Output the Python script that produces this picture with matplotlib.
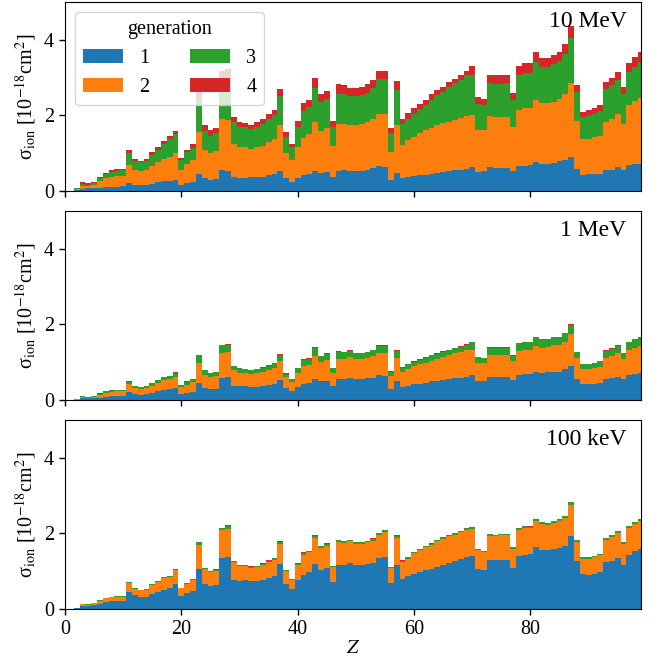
import numpy as np
import matplotlib
matplotlib.use("Agg")
import matplotlib.pyplot as plt

plt.rcParams['font.family'] = 'serif'
plt.rcParams['font.serif'] = ['Liberation Serif', 'DejaVu Serif']
plt.rcParams['mathtext.fontset'] = 'stix'

Z = np.arange(1, 100)
generations = ['1', '2', '3', '4']
energies = ['10 MeV', '1 MeV', '100 keV']

# ---- 10 MeV : cumulative tops (generation 1, 1+2, 1+2+3, 1+2+3+4)
mev10_upto1 = [0.01,0.02,0.06,0.07,0.08,0.09,0.11,0.11,0.11,0.12,
               0.21,0.17,0.15,0.16,0.19,0.23,0.26,0.27,0.28,0.17,
               0.21,0.24,0.44,0.33,0.30,0.31,0.55,0.53,0.37,0.35,
               0.35,0.36,0.36,0.37,0.41,0.46,0.53,0.33,0.24,0.34,
               0.41,0.46,0.53,0.48,0.49,0.37,0.54,0.55,0.53,0.53,
               0.54,0.55,0.61,0.65,0.63,0.30,0.48,0.35,0.37,0.39,
               0.41,0.42,0.44,0.48,0.49,0.53,0.55,0.56,0.59,0.62,
               0.50,0.52,0.62,0.61,0.61,0.61,0.53,0.66,0.67,0.68,
               0.77,0.72,0.72,0.74,0.78,0.81,0.90,0.57,0.43,0.44,
               0.46,0.46,0.55,0.56,0.62,0.56,0.68,0.70,0.72]
mev10_upto2 = [0.01,0.06,0.14,0.12,0.15,0.25,0.33,0.37,0.39,0.39,
               0.68,0.55,0.53,0.55,0.65,0.76,0.85,0.91,1.00,0.55,
               0.72,0.81,1.56,1.07,1.00,1.06,1.91,1.88,1.25,1.15,
               1.15,1.11,1.15,1.20,1.30,1.38,1.74,1.00,0.81,1.15,
               1.41,1.50,1.82,1.58,1.67,1.18,1.78,1.78,1.74,1.74,
               1.76,1.82,1.91,2.04,2.04,1.03,1.74,1.21,1.34,1.43,
               1.52,1.60,1.65,1.74,1.80,1.82,1.88,1.94,1.98,2.00,
               1.62,1.60,1.97,1.95,1.95,1.95,1.69,2.13,2.18,2.19,
               2.40,2.32,2.32,2.35,2.44,2.55,2.85,1.84,1.38,1.38,
               1.43,1.44,1.82,1.90,2.02,1.78,2.26,2.38,2.45]
mev10_upto3 = [0.01,0.07,0.19,0.17,0.20,0.33,0.44,0.50,0.54,0.55,
               1.00,0.78,0.76,0.78,0.95,1.07,1.25,1.37,1.51,0.81,
               1.02,1.13,2.45,1.59,1.44,1.52,2.97,2.95,1.82,1.69,
               1.69,1.63,1.69,1.76,1.89,2.00,2.50,1.43,1.16,1.69,
               2.11,2.22,2.72,2.34,2.42,1.69,2.57,2.56,2.51,2.50,
               2.53,2.60,2.73,2.95,2.95,1.52,2.66,1.76,1.91,2.04,
               2.16,2.28,2.41,2.53,2.62,2.75,2.84,2.92,3.05,3.06,
               2.31,2.26,2.84,2.82,2.82,2.84,2.41,3.06,3.12,3.12,
               3.41,3.28,3.28,3.36,3.43,3.63,4.05,2.62,1.96,1.98,
               2.04,2.10,2.68,2.79,2.94,2.55,3.14,3.28,3.41]
mev10_upto4 = [0.01,0.07,0.23,0.20,0.24,0.37,0.48,0.55,0.58,0.59,
               1.07,0.84,0.80,0.84,1.02,1.15,1.32,1.44,1.58,0.88,
               1.08,1.23,2.65,1.74,1.60,1.67,3.18,3.22,1.96,1.81,
               1.80,1.75,1.81,1.89,2.02,2.13,2.70,1.56,1.25,1.85,
               2.33,2.41,2.98,2.55,2.64,1.84,2.82,2.79,2.73,2.72,
               2.75,2.82,2.94,3.17,3.17,1.67,2.90,1.91,2.06,2.19,
               2.31,2.41,2.57,2.66,2.75,2.88,2.97,3.06,3.17,3.30,
               2.48,2.44,3.06,3.06,3.06,3.06,2.60,3.30,3.38,3.38,
               3.67,3.52,3.52,3.60,3.67,3.87,4.35,2.81,2.09,2.13,
               2.19,2.28,2.88,2.99,3.14,2.75,3.38,3.55,3.67]

# ---- 1 MeV
mev1_upto1 = [0.01,0.01,0.04,0.04,0.04,0.06,0.09,0.11,0.11,0.11,
              0.22,0.16,0.14,0.15,0.19,0.23,0.26,0.28,0.32,0.15,
              0.19,0.22,0.44,0.32,0.29,0.30,0.59,0.60,0.38,0.37,
              0.37,0.35,0.35,0.37,0.40,0.42,0.53,0.31,0.25,0.35,
              0.42,0.44,0.55,0.50,0.51,0.37,0.55,0.55,0.57,0.55,
              0.55,0.57,0.58,0.65,0.63,0.30,0.50,0.33,0.38,0.41,
              0.42,0.46,0.49,0.49,0.53,0.55,0.58,0.59,0.62,0.65,
              0.51,0.51,0.61,0.61,0.61,0.61,0.53,0.65,0.68,0.68,
              0.75,0.71,0.73,0.75,0.75,0.82,0.90,0.56,0.41,0.41,
              0.42,0.44,0.55,0.58,0.62,0.55,0.65,0.69,0.70]
mev1_upto2 = [0.01,0.03,0.08,0.06,0.09,0.13,0.19,0.22,0.23,0.23,
              0.41,0.32,0.29,0.31,0.38,0.46,0.54,0.55,0.62,0.33,
              0.40,0.47,0.99,0.67,0.60,0.63,1.23,1.26,0.78,0.72,
              0.70,0.69,0.70,0.74,0.79,0.84,1.04,0.60,0.48,0.70,
              0.90,0.92,1.15,1.01,1.06,0.70,1.09,1.07,1.13,1.08,
              1.08,1.12,1.16,1.25,1.25,0.63,1.10,0.74,0.81,0.90,
              0.94,0.99,1.04,1.07,1.13,1.19,1.23,1.28,1.32,1.32,
              0.99,0.97,1.19,1.19,1.19,1.19,1.02,1.30,1.32,1.32,
              1.43,1.38,1.40,1.44,1.44,1.54,1.74,1.11,0.82,0.82,
              0.85,0.88,1.12,1.17,1.23,1.07,1.32,1.38,1.43]
mev1_upto3 = [0.01,0.03,0.11,0.08,0.11,0.17,0.23,0.26,0.27,0.27,
              0.48,0.37,0.34,0.36,0.44,0.52,0.61,0.63,0.72,0.39,
              0.48,0.55,1.18,0.78,0.70,0.74,1.44,1.46,0.90,0.84,
              0.82,0.79,0.82,0.85,0.91,0.97,1.20,0.69,0.56,0.84,
              1.06,1.09,1.37,1.16,1.22,0.84,1.28,1.26,1.30,1.23,
              1.23,1.26,1.32,1.43,1.43,0.75,1.30,0.85,0.94,1.01,
              1.06,1.12,1.18,1.22,1.28,1.32,1.37,1.41,1.46,1.52,
              1.13,1.10,1.38,1.38,1.38,1.38,1.17,1.50,1.52,1.52,
              1.66,1.60,1.60,1.66,1.66,1.76,1.97,1.26,0.95,0.95,
              0.98,1.02,1.30,1.35,1.43,1.23,1.52,1.60,1.66]
mev1_gen4 = [0.0,0.0,0.005,0.005,0.005,0.005,0.005,0.005,0.005,0.005,
             0.01,0.005,0.005,0.005,0.005,0.01,0.01,0.01,0.01,0.005,
             0.01,0.01,0.02,0.01,0.01,0.01,0.02,0.025,0.01,0.01,
             0.01,0.01,0.01,0.01,0.01,0.01,0.025,0.01,0.005,0.01,
             0.01,0.01,0.02,0.01,0.01,0.01,0.01,0.01,0.01,0.01,
             0.01,0.01,0.01,0.015,0.015,0.005,0.015,0.01,0.01,0.01,
             0.01,0.01,0.01,0.01,0.01,0.01,0.01,0.015,0.015,0.015,
             0.01,0.01,0.015,0.015,0.015,0.015,0.01,0.015,0.015,0.015,
             0.015,0.015,0.015,0.015,0.015,0.02,0.025,0.015,0.01,0.01,
             0.01,0.01,0.015,0.015,0.015,0.015,0.015,0.015,0.015]

# ---- 100 keV
kev100_upto1 = [0.01,0.02,0.09,0.08,0.10,0.13,0.18,0.20,0.21,0.22,
                0.46,0.36,0.33,0.33,0.40,0.46,0.51,0.55,0.66,0.35,
                0.42,0.48,1.07,0.67,0.62,0.64,1.34,1.38,0.77,0.74,
                0.77,0.73,0.75,0.77,0.82,0.88,1.18,0.67,0.53,0.76,
                0.91,0.97,1.18,1.03,1.09,0.72,1.16,1.16,1.22,1.16,
                1.17,1.18,1.22,1.34,1.38,0.70,1.17,0.80,0.87,0.92,
                0.97,1.02,1.07,1.11,1.17,1.22,1.28,1.32,1.37,1.41,
                1.06,1.02,1.29,1.29,1.30,1.30,1.08,1.41,1.44,1.46,
                1.63,1.56,1.56,1.58,1.60,1.67,1.94,1.26,0.92,0.89,
                0.93,0.98,1.23,1.28,1.36,1.17,1.44,1.52,1.59]
kev100_upto2 = [0.01,0.03,0.13,0.11,0.15,0.22,0.29,0.32,0.33,0.33,
                0.69,0.54,0.50,0.51,0.64,0.72,0.82,0.85,1.03,0.55,
                0.67,0.78,1.68,1.07,0.98,1.01,2.08,2.12,1.23,1.13,
                1.13,1.08,1.11,1.16,1.24,1.30,1.72,1.00,0.78,1.16,
                1.44,1.50,1.87,1.60,1.67,1.10,1.77,1.74,1.79,1.73,
                1.73,1.76,1.81,1.96,2.03,1.08,1.87,1.24,1.33,1.48,
                1.55,1.64,1.69,1.79,1.85,1.92,1.96,2.03,2.10,2.11,
                1.55,1.51,1.92,1.92,1.95,1.95,1.59,2.09,2.15,2.14,
                2.33,2.25,2.23,2.27,2.33,2.40,2.76,1.78,1.33,1.33,
                1.37,1.43,1.83,1.90,2.01,1.73,2.14,2.25,2.32]
kev100_upto3 = [0.01,0.03,0.14,0.12,0.16,0.23,0.30,0.33,0.34,0.34,
                0.71,0.55,0.51,0.52,0.65,0.73,0.84,0.87,1.05,0.56,
                0.69,0.80,1.76,1.09,1.01,1.04,2.14,2.20,1.27,1.16,
                1.15,1.12,1.14,1.20,1.28,1.35,1.78,1.02,0.80,1.20,
                1.49,1.54,1.94,1.66,1.73,1.13,1.83,1.79,1.83,1.76,
                1.76,1.80,1.86,2.01,2.08,1.11,1.94,1.28,1.37,1.51,
                1.59,1.67,1.73,1.83,1.89,1.96,2.01,2.06,2.14,2.17,
                1.59,1.54,1.97,1.96,1.99,1.99,1.64,2.14,2.20,2.18,
                2.38,2.30,2.27,2.33,2.38,2.45,2.83,1.83,1.37,1.37,
                1.40,1.46,1.88,1.96,2.05,1.77,2.19,2.30,2.38]
kev100_gen4 = [0.0,0.0,0.0,0.0,0.0,0.0,0.0,0.0,0.0,0.0,
               0.005,0.0,0.0,0.0,0.0,0.005,0.005,0.005,0.005,0.0,
               0.005,0.005,0.01,0.005,0.005,0.005,0.01,0.01,0.005,0.005,
               0.005,0.005,0.005,0.005,0.005,0.005,0.01,0.005,0.0,0.005,
               0.005,0.005,0.01,0.005,0.005,0.005,0.005,0.005,0.005,0.005,
               0.005,0.005,0.005,0.005,0.005,0.0,0.01,0.005,0.005,0.005,
               0.005,0.005,0.005,0.005,0.005,0.005,0.005,0.005,0.005,0.005,
               0.005,0.005,0.01,0.005,0.005,0.005,0.005,0.005,0.005,0.005,
               0.005,0.005,0.005,0.005,0.005,0.005,0.01,0.005,0.005,0.005,
               0.005,0.005,0.005,0.005,0.005,0.005,0.005,0.005,0.005]


def layers_from_cum(c1, c2, c3, c4):
    c = [np.asarray(v, float) for v in (c1, c2, c3, c4)]
    return [c[0], c[1] - c[0], c[2] - c[1], c[3] - c[2]]


panels = [
    layers_from_cum(mev10_upto1, mev10_upto2, mev10_upto3, mev10_upto4),
    layers_from_cum(mev1_upto1, mev1_upto2, mev1_upto3,
                    np.asarray(mev1_upto3) + np.asarray(mev1_gen4)),
    layers_from_cum(kev100_upto1, kev100_upto2, kev100_upto3,
                    np.asarray(kev100_upto3) + np.asarray(kev100_gen4)),
]

colors = ['#1f77b4', '#ff7f0e', '#2ca02c', '#d62728']

fig = plt.figure(figsize=(6.59, 6.70), dpi=100)
left, width = 0.0986, 0.8741
bottoms = [0.715, 0.403, 0.091]
height = 0.2825

axes = []
for i, (layers, label) in enumerate(zip(panels, energies)):
    ax = fig.add_axes([left, bottoms[i], width, height])
    axes.append(ax)
    base = np.zeros(len(Z))
    for g, (h, col) in enumerate(zip(layers, colors)):
        ax.bar(Z, h, bottom=base, width=1.0, color=col, linewidth=0,
               label=generations[g])
        base = base + h
    ax.set_xlim(0, 99)
    ax.set_ylim(0, 5)
    ax.set_yticks([0, 2, 4])
    ax.set_xticks([0, 20, 40, 60, 80])
    ax.tick_params(labelsize=14.5, length=4.5, width=1)
    ax.set_ylabel('σ$_{\\mathrm{ion}}$ [10$^{-18}$cm$^2$]', fontsize=14.5)
    ax.text(0.975, 0.95, label, transform=ax.transAxes, ha='right', va='top',
            fontsize=17)
    if i < 2:
        ax.tick_params(labelbottom=False)

axes[0].legend(title='generation', ncol=2, loc='upper left', fontsize=14.5,
               title_fontsize=14.5)
axes[2].set_xlabel('$Z$', fontsize=14.5, labelpad=0)

fig.savefig('out.png', dpi=100)
